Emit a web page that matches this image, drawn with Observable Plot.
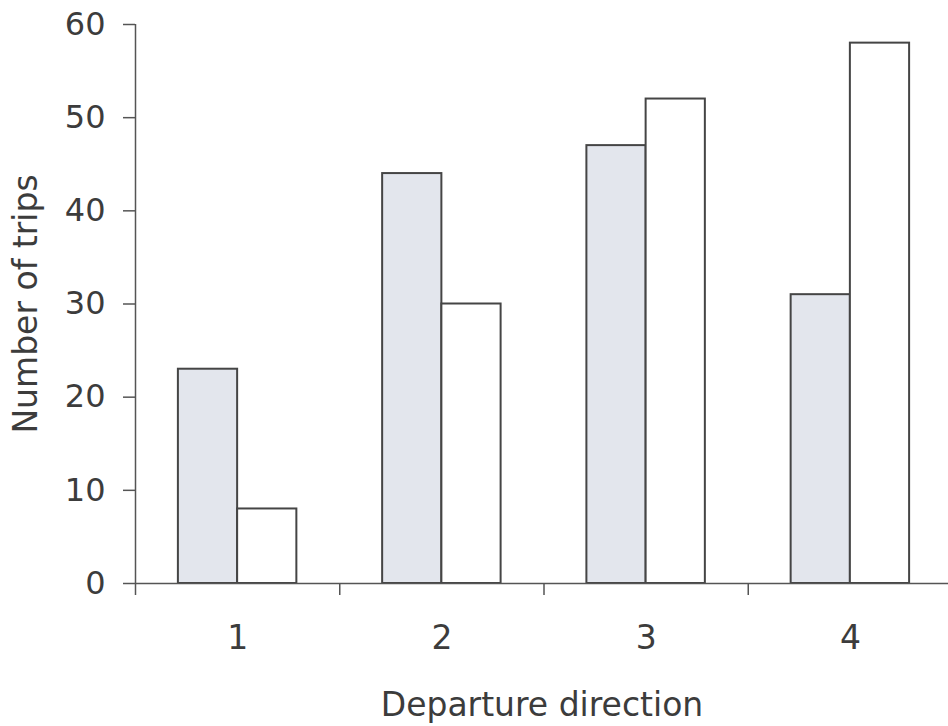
<!DOCTYPE html>
<html>
<head>
<meta charset="utf-8">
<script src="https://cdn.jsdelivr.net/npm/d3@7"></script>
<script src="https://cdn.jsdelivr.net/npm/@observablehq/plot@0.6"></script>
<style>
  html, body { margin: 0; padding: 0; background: #fff; }
</style>
</head>
<body>
<div id="chart"></div>
<script>
const directions = [1, 2, 3, 4];
const greyTrips = [23, 44, 47, 31];
const whiteTrips = [8, 30, 52, 58];
const yTicks = [0, 10, 20, 30, 40, 50, 60];
const boundaryTicks = [0.5, 1.5, 2.5, 3.5];

const greyData = directions.map((d, i) => ({dir: d, trips: greyTrips[i]}));
const whiteData = directions.map((d, i) => ({dir: d, trips: whiteTrips[i]}));
const half = 0.29;

const font = "'DejaVu Sans', sans-serif";
const textColor = "#3c3c3c";
const axisColor = "#555";

const chart = Plot.plot({
  width: 948,
  height: 726,
  marginLeft: 135,
  marginRight: 0,
  marginTop: 24,
  marginBottom: 143,
  style: {fontFamily: font, fontSize: "33px", color: textColor, background: "#fff"},
  x: {domain: [0.5, 4.5], range: [135, 952]},
  y: {domain: [0, 60]},
  marks: [
    Plot.rectY(greyData, {x1: d => d.dir - half, x2: d => d.dir, y1: 0, y2: "trips", fill: "#e3e6ed", stroke: "#454545", strokeWidth: 2}),
    Plot.rectY(whiteData, {x1: d => d.dir, x2: d => d.dir + half, y1: 0, y2: "trips", fill: "#fff", stroke: "#454545", strokeWidth: 2}),
    Plot.ruleY([0], {stroke: axisColor, strokeWidth: 1.5}),
    Plot.ruleX([0.5], {stroke: axisColor, strokeWidth: 1.5}),
    Plot.axisY({ticks: yTicks, tickSize: 12, tickPadding: 18, stroke: axisColor, strokeWidth: 1.5, fill: textColor,
      fontSize: 32, label: null}),
    Plot.axisY({ticks: [], label: "Number of trips", labelAnchor: "center", labelArrow: "none", labelOffset: 122, fill: textColor}),
    Plot.axisX({ticks: directions, tickSize: 0, tickPadding: 42, tickFormat: d3.format("d"), fill: textColor,
      fontSize: 33, label: null}),
    Plot.axisX({ticks: [], label: "Departure direction", labelAnchor: "center", labelArrow: "none", labelOffset: 132, fill: textColor}),
    Plot.axisX({ticks: boundaryTicks, tickSize: 12, tickFormat: () => "", stroke: axisColor, strokeWidth: 1.5, label: null})
  ]
});
document.getElementById("chart").appendChild(chart);
</script>
</body>
</html>
